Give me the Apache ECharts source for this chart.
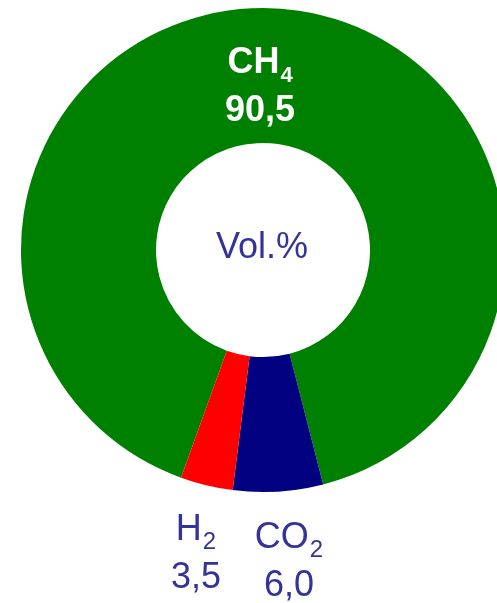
<!DOCTYPE html>
<html>
<head>
<meta charset="utf-8">
<style>
  html, body { margin: 0; padding: 0; background: #ffffff; }
  #chart { width: 497px; height: 603px; }
</style>
<script src="https://cdn.jsdelivr.net/npm/echarts@6/dist/echarts.min.js"></script>
</head>
<body>
<div id="chart"></div>
<script>
// Gas composition in volume percent
const gasBase = ['CH', 'CO', 'H'];      // formula without the subscript digit
const gasSub = ['4', '2', '2'];         // subscript digit of each formula
const volPercent = [90.5, 6.0, 3.5];
const sliceColors = ['#008000', '#000080', '#ff0000'];
const unitLabel = 'Vol.%';

// Label centres (pixels) for each slice's two-line label
const labelPos = [[260, 87], [289, 562], [196, 554]];
const labelStyles = [
  { color: '#ffffff', fontWeight: 'bold', sub: 22 },
  { color: '#333399', fontWeight: 'normal', sub: 24 },
  { color: '#333399', fontWeight: 'normal', sub: 24 }
];

const FONT = '"Liberation Sans", Arial, sans-serif';

function richFor(style) {
  return {
    m: { fontFamily: FONT, fontSize: 36, lineHeight: 48, color: style.color, fontWeight: style.fontWeight },
    // subscript: smaller digit anchored to the bottom of the line
    s: { fontFamily: FONT, fontSize: style.sub, lineHeight: 6, verticalAlign: 'bottom', padding: [0, 0, 0, 1], color: style.color, fontWeight: style.fontWeight }
  };
}

const pieData = volPercent.map(function (v, i) {
  return {
    name: gasBase[i] + gasSub[i],
    value: v,
    itemStyle: { color: sliceColors[i] },
    label: {
      show: true,
      position: 'inside',
      formatter: '{m|' + gasBase[i] + '}{s|' + gasSub[i] + '}\n{m|' + v.toFixed(1).replace('.', ',') + '}',
      rich: richFor(labelStyles[i])
    }
  };
});

const chart = echarts.init(document.getElementById('chart'), null, { renderer: 'canvas' });
chart.setOption({
  animation: false,
  backgroundColor: '#ffffff',
  series: [{
    type: 'pie',
    center: [263, 250],
    radius: [107, 242],
    startAngle: 250.2,
    clockwise: true,
    avoidLabelOverlap: false,
    silent: true,
    labelLine: { show: false },
    itemStyle: { borderWidth: 0 },
    emphasis: { disabled: true },
    labelLayout: function (params) {
      const p = labelPos[params.dataIndex];
      return { x: p[0], y: p[1] };
    },
    data: pieData
  }],
  graphic: [{
    type: 'text',
    x: 262,
    y: 248,
    style: {
      text: unitLabel,
      fontFamily: FONT,
      fontSize: 36,
      fill: '#333399',
      align: 'center',
      verticalAlign: 'middle'
    }
  }]
});
</script>
</body>
</html>
